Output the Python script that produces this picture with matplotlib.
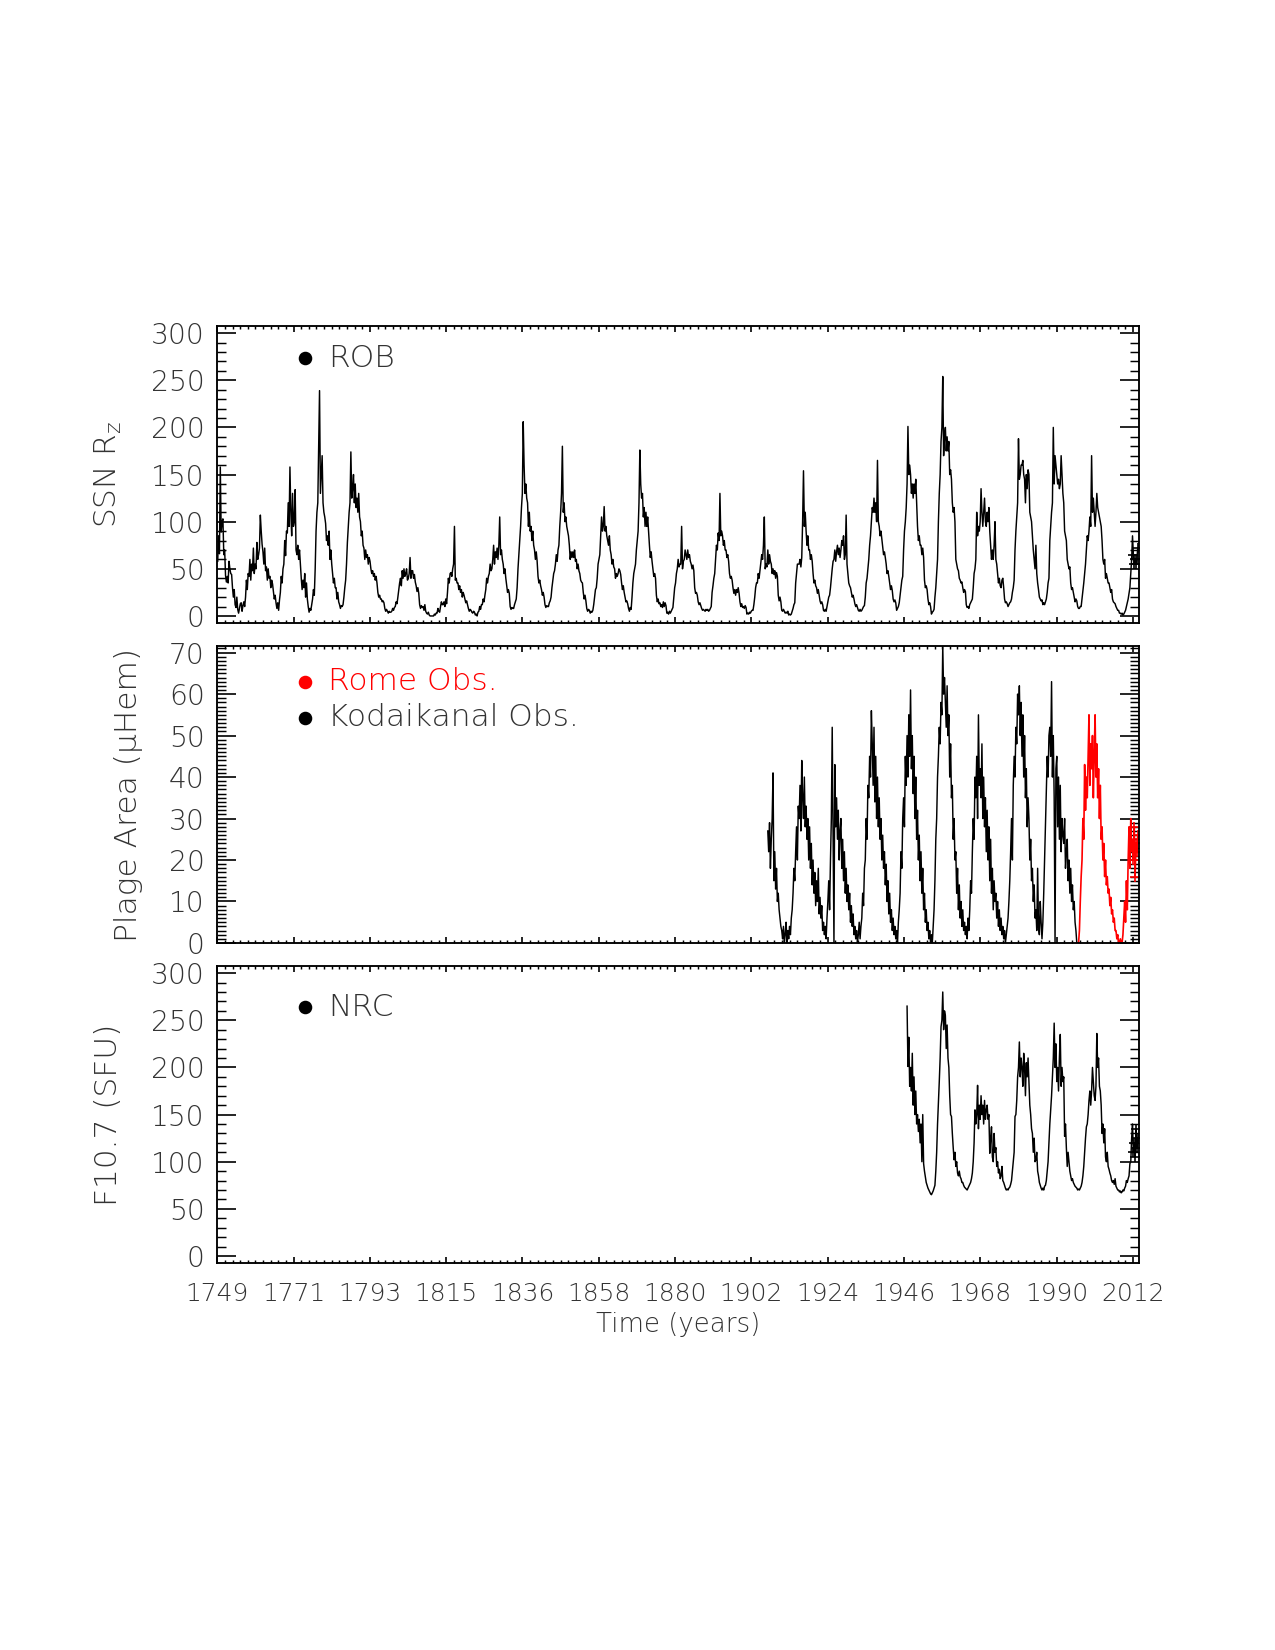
import numpy as np
import matplotlib
matplotlib.use('Agg')
import matplotlib.pyplot as plt
from matplotlib.ticker import FixedLocator, MultipleLocator

plt.rcParams['font.family'] = ['DejaVu Sans']
plt.rcParams['font.weight'] = 'light'
plt.rcParams['mathtext.fontset'] = 'custom'
plt.rcParams['mathtext.rm'] = 'DejaVu Sans:light'
plt.rcParams['mathtext.it'] = 'DejaVu Sans:italic:light'

# ---------------- data (quarterly samples) ----------------
ssn_start = 1749
ssn = [
    58,85,66,158, 89,100,103,65, 70,43,36,42, 35,58,50,45, 44,30,20,28, 12,9,20,7, 3,8,13,14, 5,11,15,10, 20,38,28,45, 42,60,38,55,
    48,72,45,55, 50,78,60,65, 72,107,90,76, 68,55,72,48, 52,38,50,40, 42,30,38,34, 26,18,22,14, 8,14,6,17, 25,42,35,50, 55,80,64,90,
    88,120,95,158, 110,85,130,95, 100,134,70,65, 75,60,70,55, 40,28,38,30, 45,20,35,18, 10,4,8,6, 12,18,28,22, 50,90,110,120, 178,239,130,150,
    170,120,110,105, 98,80,85,75, 90,60,70,55, 45,35,40,30, 30,18,25,15, 12,8,11,10, 12,20,30,38, 55,78,95,110, 120,174,125,135, 150,120,140,115,
    125,110,130,105, 100,85,90,75, 72,60,70,62, 65,55,62,58, 50,45,48,42, 45,38,42,35, 25,20,22,18, 18,15,16,14, 8,5,7,5, 3,5,4,4,
    5,8,6,9, 10,15,13,20, 28,35,40,32, 48,40,50,42, 45,50,38,40, 45,62,40,48, 48,40,44,36, 32,26,30,24, 12,8,11,9, 10,6,12,5,
    3,2,4,1, 0,0,0,0, 0,2,1,3, 3,8,5,4, 10,15,12,12, 15,10,18,13, 25,40,35,45, 46,42,50,55, 95,38,40,35, 35,28,32,25,
    28,20,25,22, 18,14,16,12, 8,5,7,6, 4,3,5,4, 1,2,0,4, 5,10,7,12, 12,18,15,22, 28,40,35,42, 45,55,48,50, 60,75,55,68,
    62,72,60,75, 105,65,70,60, 55,45,50,40, 32,25,28,24, 10,7,9,8, 8,12,15,18, 30,50,65,80, 95,115,130,206, 160,130,140,125, 120,95,110,90,
    95,80,90,75, 70,60,68,58, 42,35,38,32, 28,22,25,20, 12,9,11,10, 10,14,16,20, 30,38,45,48, 55,65,58,70, 75,95,110,130, 180,110,120,100,
    105,95,90,85, 75,60,68,62, 68,62,70,58, 60,50,55,48, 45,38,36,35, 25,18,22,16, 8,5,7,6, 3,5,4,6, 12,20,28,30, 40,55,60,65,
    85,105,90,95, 116,90,95,85, 80,75,85,70, 65,55,60,52, 50,40,45,42, 45,50,48,44, 35,28,32,25, 20,15,16,13, 8,5,9,7, 20,35,45,50,
    55,70,80,90, 120,176,140,125, 130,105,115,95, 110,95,105,90, 75,62,68,58, 50,42,45,40, 22,15,18,13, 14,10,12,9, 15,10,14,11, 3,4,2,5,
    3,5,7,9, 20,30,35,45, 50,60,52,55, 55,95,50,58, 60,70,65,60, 70,62,65,58, 55,50,54,48, 30,24,25,22, 15,12,14,11, 8,6,7,6,
    5,7,6,7, 5,6,8,10, 25,32,40,45, 60,75,70,88, 80,130,85,90, 85,75,80,70, 70,62,65,58, 45,40,42,38, 30,24,28,22, 28,25,30,24,
    15,10,13,9, 10,8,11,9, 2,3,2,4, 3,5,6,6, 12,20,30,35, 35,45,40,48, 55,65,60,75, 105,50,55,52, 70,55,65,58, 55,45,50,44,
    48,40,46,42, 22,16,20,15, 6,5,7,5, 3,4,3,5, 1,2,1,2, 5,8,12,14, 35,45,55,55, 55,60,52,62, 100,154,95,110, 90,75,85,70,
    70,60,65,58, 45,35,38,32, 30,24,28,22, 16,13,15,12, 6,5,7,5, 10,15,20,22, 30,40,50,58, 60,70,58,68, 75,65,72,62, 70,80,75,85,
    60,65,107,55, 45,35,32,30, 25,20,22,18, 13,10,12,9, 6,5,7,5, 6,8,10,11, 20,35,40,50, 60,75,85,100, 115,110,125,110, 120,100,165,100,
    95,85,90,82, 75,65,68,62, 55,45,48,42, 35,28,32,27, 18,15,17,14, 6,8,10,14, 22,30,38,42, 70,90,100,115, 140,201,150,160, 150,130,140,125,
    140,130,145,120, 95,80,85,75, 75,65,72,62, 38,30,32,28, 18,12,14,10, 2,4,5,7, 20,30,45,60, 100,130,150,185, 200,254,170,190, 200,175,190,175,
    185,150,155,145, 120,110,115,100, 60,55,50,48, 40,38,35,36, 30,25,28,26, 12,9,10,8, 12,14,16,18, 30,45,50,60, 110,85,95,90, 100,135,110,95,
    110,125,100,95, 110,100,115,90, 75,60,70,60, 75,100,60,55, 45,35,40,32, 30,38,40,30, 18,14,15,13, 10,12,14,15, 18,25,30,38, 70,90,105,120,
    188,145,150,160, 160,165,150,145, 120,150,135,155, 150,110,105,100, 85,70,60,50, 75,45,35,28, 20,18,16,17, 12,14,12,15, 18,25,35,40, 80,95,110,120,
    200,140,170,160, 150,140,145,135, 140,170,150,130, 120,90,85,80, 60,55,50,52, 35,28,30,25, 20,15,18,16, 10,8,8,10, 10,18,25,35, 45,55,70,85,
    80,90,105,95, 170,110,125,110, 95,110,130,115, 110,105,100,95, 80,60,55,60, 40,45,40,35, 35,30,25,28, 18,15,14,13, 10,8,6,6, 3,3,2,3,
    1,2,4,6, 10,14,18,24, 30,45,60,85, 65,55,60,55, 60,72,
]

kodai_start = 1907
plage_kodaikanal = [
    27,22,29,18, 25,30,41,15, 22,13,18,10, 12,8,6,4, 3,1,4,0, 2,5,0,3, 1,4,2,6, 8,12,18,15, 22,28,20,33, 30,38,27,44,
    35,30,40,28, 33,25,30,20, 28,18,24,14, 20,12,17,9, 15,10,18,7, 11,6,9,3, 5,2,4,1, 6,10,15,8, 20,30,52,25, 0,43,28,35,
    25,32,20,27, 30,18,25,15, 22,12,18,10, 14,8,12,5, 9,4,7,2, 4,1,3,0, 2,5,1,4, 6,12,9,18, 20,30,25,38, 35,45,40,56,
    48,38,52,34, 45,30,40,28, 35,25,30,20, 26,18,22,14, 19,10,15,7, 12,5,8,3, 6,2,4,1, 3,0,5,8, 12,22,18,30, 35,28,45,38,
    50,40,55,45, 61,42,50,36, 45,30,40,25, 32,20,26,15, 22,12,18,8, 12,5,8,3, 5,1,3,0, 2,0,4,8, 15,25,30,40, 45,52,48,58,
    55,71.6,60,64, 58,52,62,50, 55,40,48,35, 38,25,30,20, 22,12,18,8, 14,6,10,4, 8,3,5,2, 4,1,6,3, 8,15,12,22, 30,25,40,35,
    45,30,55,38, 42,35,48,30, 40,28,35,22, 32,20,28,15, 25,12,18,8, 15,10,12,6, 10,4,8,3, 6,2,4,1, 3,0,2,4, 6,10,15,22,
    30,20,38,45, 40,52,48,60, 55,62,50,58, 45,55,40,50, 35,42,28,35, 30,20,25,15, 18,10,14,6, 8,3,18,4, 2,10,5,1, 5,12,20,28,
    35,45,40,50, 52,45,63,40, 50,35,0,42, 45,28,40,25, 38,22,30,26, 24,30,18,22, 25,15,20,12, 18,10,14,8, 10,5,3,0,
]

rome_start = 1996
plage_rome = [
    0,0,3,10, 16,20,30,25, 43,32,40,35, 45,55,38,48, 42,50,35,45, 55,40,48,35, 42,30,38,25, 28,20,24,16, 20,14,16,12,
    13,9,11,7, 8,5,6,3, 3,1,2,0, 0,1,0,0, 2,6,10,5, 15,8,20,28, 18,30,22,25, 20,28,16,24, 22,26,
]

f107_start = 1947
f107 = [
    265,201,232,180, 200,175,215,160, 190,150,175,140, 150,132,145,120, 140,100,150,98, 90,84,78,75, 72,70,68,66, 65,67,69,72, 75,90,110,140, 162,185,210,243,
    250,280,240,260, 255,220,245,210, 200,170,150,148, 130,115,102,110, 95,100,88,85, 90,84,82,78, 78,75,73,72, 71,70,72,74, 76,78,82,88, 100,120,155,140,
    150,181,135,160, 145,170,150,160, 140,165,145,155, 160,145,150,109, 125,137,105,100, 130,110,115,95, 100,88,92,82, 85,95,80,78, 75,72,70,71, 70,72,73,76,
    80,90,100,110, 148,150,165,190, 200,227,190,210, 200,180,215,200, 170,205,190,210, 185,160,150,135, 130,110,125,100, 102,110,90,85, 78,75,72,70, 72,70,74,75,
    80,90,100,120, 140,155,170,190, 210,247,200,225, 185,200,175,210, 235,180,200,185, 190,127,140,115, 95,110,100,90, 85,80,82,78, 76,74,73,72, 70,71,70,72,
    74,78,85,95, 110,125,137,140, 150,165,175,160, 175,200,185,170, 165,180,236,200, 210,180,175,160, 130,140,120,135, 105,100,110,95, 92,88,85,80, 78,80,76,82,
    74,72,70,70, 68,69,67,68, 70,69,72,74, 80,78,82,85, 98,100,125,140, 110,120,105,135, 115,125,
]

xtick_labels = ['1749', '1771', '1793', '1815', '1836', '1858', '1880',
                '1902', '1924', '1946', '1968', '1990', '2012']

panel_ylabels = ['SSN R$_{\\rm z}$', 'Plage Area (\u03bcHem)', 'F10.7 (SFU)']
legend_rob = 'ROB'
legend_rome = 'Rome Obs.'
legend_kodai = 'Kodaikanal Obs.'
legend_nrc = 'NRC'
xlabel_text = 'Time (years)'


def quarter_times(start, n):
    return start + (np.arange(n) + 0.5) / 4.0


t_ssn = quarter_times(ssn_start, len(ssn))
t_kod = quarter_times(kodai_start, len(plage_kodaikanal))
t_rom = quarter_times(rome_start, len(plage_rome))
t_f107 = quarter_times(f107_start, len(f107))

# ---------------- figure ----------------
TC = '#333333'
fig = plt.figure(figsize=(8.5, 11), dpi=150)
L, W, H = 0.1704, 0.7231, 0.18
ax1 = fig.add_axes([L, 0.6224, W, H])
ax2 = fig.add_axes([L, 0.4285, W, H])
ax3 = fig.add_axes([L, 0.2345, W, H])

lw = 0.7
ax1.plot(t_ssn, ssn, color='black', lw=lw)
ax1.plot(t_ssn[-6:], ssn[-6:], '+', color='black', ms=5, mew=0.8)

ax2.plot(t_kod, plage_kodaikanal, color='black', lw=lw)
ax2.plot(t_rom, plage_rome, color='red', lw=0.8)
ax2.plot(t_rom[-6:], plage_rome[-6:], '+', color='red', ms=5, mew=0.8)

ax3.plot(t_f107, f107, color='black', lw=lw)
ax3.plot(t_f107[-6:], f107[-6:], '+', color='black', ms=5, mew=0.8)

x0, x1 = 1749, 2012
xmajor = np.linspace(x0, x1, len(xtick_labels))
xminor = np.arange(x0, 2013.8, (x1 - x0) / 120.0)

for ax in (ax1, ax2, ax3):
    ax.set_xlim(1749, 2013.8)
    ax.xaxis.set_major_locator(FixedLocator(xmajor))
    ax.xaxis.set_minor_locator(FixedLocator(xminor))
    ax.tick_params(axis='x', which='major', direction='in', length=3, width=0.8,
                   top=True, bottom=True, pad=9, labelsize=12, labelcolor=TC)
    ax.tick_params(axis='x', which='minor', direction='in', length=1.6, width=0.7,
                   top=True, bottom=True)
    ax.tick_params(axis='y', which='major', direction='in', length=9, width=0.8,
                   left=True, right=True, pad=6, labelsize=13.5, labelcolor=TC)
    ax.tick_params(axis='y', which='minor', direction='in', length=4.3, width=0.7,
                   left=True, right=True)
    for s in ax.spines.values():
        s.set_linewidth(0.9)

ax1.set_xticklabels([])
ax2.set_xticklabels([])
ax3.set_xticklabels(xtick_labels)

ax1.set_ylim(-7.5, 307.5)
ax1.yaxis.set_major_locator(MultipleLocator(50))
ax1.yaxis.set_minor_locator(MultipleLocator(10))

ax2.set_ylim(0, max(plage_kodaikanal))
ax2.yaxis.set_major_locator(MultipleLocator(10))
ax2.yaxis.set_minor_locator(MultipleLocator(1))

ax3.set_ylim(-7.5, 307.5)
ax3.yaxis.set_major_locator(MultipleLocator(50))
ax3.yaxis.set_minor_locator(MultipleLocator(10))

# y labels
ylab_x = [-0.1175, -0.0958, -0.1185]
for ax, lab, xx in zip((ax1, ax2, ax3), panel_ylabels, ylab_x):
    ax.text(xx, 0.5, lab, transform=ax.transAxes, rotation=90,
            ha='center', va='center', fontsize=15, color=TC)

# legends
def legend_item(ax, y, label, color):
    ax.plot([0.095], [y], 'o', color=color, ms=5.5, transform=ax.transAxes, clip_on=False)
    ax.text(0.120, y, label, transform=ax.transAxes, ha='left', va='center',
            fontsize=15, color=(TC if color == 'black' else color))

legend_item(ax1, 0.892, legend_rob, 'black')
legend_item(ax2, 0.879, legend_rome, 'red')
legend_item(ax2, 0.758, legend_kodai, 'black')
legend_item(ax3, 0.862, legend_nrc, 'black')

fig.text(0.532, 0.197, xlabel_text, ha='center', va='center', fontsize=12.5, color=TC)

fig.savefig('out.png', dpi=150)
